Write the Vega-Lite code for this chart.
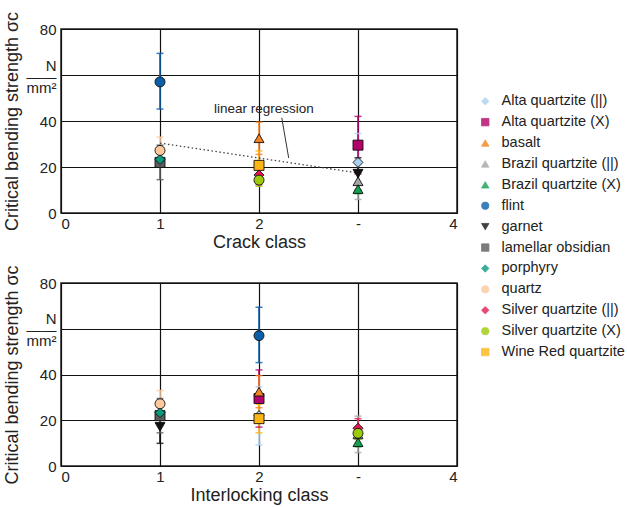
{
  "$schema": "https://vega.github.io/schema/vega-lite/v6.json",
  "padding": {"left": 2, "top": 10, "right": 5, "bottom": 5},
  "config": {
    "font": "Liberation Sans",
    "view": {"stroke": "#222", "strokeWidth": 1.5},
    "axis": {
      "grid": true,
      "gridColor": "#111",
      "gridWidth": 1.2,
      "gridOpacity": 1,
      "ticks": false,
      "domain": false,
      "labelFont": "Liberation Sans",
      "labelFontSize": 15,
      "labelColor": "#222",
      "titleFont": "Liberation Sans",
      "titleFontSize": 18,
      "titleFontWeight": "normal",
      "titleColor": "#222"
    },
    "legend": {
      "labelFont": "Liberation Sans",
      "labelFontSize": 14.5,
      "labelColor": "#222",
      "labelLimit": 200,
      "symbolSize": 55,
      "symbolStrokeColor": "#222",
      "symbolStrokeWidth": 0.8,
      "rowPadding": 5.9,
      "labelOffset": 9
    }
  },
  "datasets": {
    "strength": [
      {"material": "Alta quartzite (||)", "crack": 3, "interlock": 2, "mean": 22.0, "lo": 9.2, "hi": 34.6},
      {"material": "Alta quartzite (X)", "crack": 3, "interlock": 2, "mean": 29.5, "lo": 17.0, "hi": 42.0},
      {"material": "basalt", "crack": 2, "interlock": 2, "mean": 32.5, "lo": 25.5, "hi": 39.5},
      {"material": "Brazil quartzite (||)", "crack": 3, "interlock": 3, "mean": 13.8, "lo": 5.9, "hi": 21.8},
      {"material": "Brazil quartzite (X)", "crack": 3, "interlock": 3, "mean": 10.4, "lo": 8.4, "hi": 12.4},
      {"material": "flint", "crack": 1, "interlock": 2, "mean": 57.0, "lo": 45.2, "hi": 69.4},
      {"material": "garnet", "crack": 3, "interlock": 1, "mean": 17.1, "lo": 9.9, "hi": 24.0},
      {"material": "lamellar obsidian", "crack": 1, "interlock": 1, "mean": 22.0, "lo": 14.5, "hi": 29.5},
      {"material": "porphyry", "crack": 1, "interlock": 1, "mean": 23.3, "lo": 20.8, "hi": 25.8},
      {"material": "quartz", "crack": 1, "interlock": 1, "mean": 27.2, "lo": 21.4, "hi": 33.0},
      {"material": "Silver quartzite (||)", "crack": 2, "interlock": 3, "mean": 16.5, "lo": 12.3, "hi": 20.7},
      {"material": "Silver quartzite (X)", "crack": 2, "interlock": 3, "mean": 14.3, "lo": 11.6, "hi": 17.0},
      {"material": "Wine Red quartzite", "crack": 2, "interlock": 2, "mean": 20.7, "lo": 14.5, "hi": 27.0}
    ],
    "regression": [
      {"crack": 1, "sigma": 30.4},
      {"crack": 3, "sigma": 17.4}
    ],
    "note": [
      {"crack": 2.05, "sigma": 45.2, "crack2": 2.23, "top": 41.4, "crack3": 2.30, "bottom": 23.9, "text": "linear regression"}
    ]
  },
  "vconcat": [
    {
      "width": 396,
      "height": 184,
      "layer": [
        {
          "data": {"name": "strength"},
          "mark": {"type": "rule", "strokeWidth": 2, "opacity": 0.8},
          "encoding": {
            "x": {"field": "crack", "type": "quantitative", "scale": {"domain": [0, 4], "nice": false},
                  "axis": {"values": [0, 1, 2, 3, 4], "format": "d", "labelExpr": "datum.value == 3 ? '-' : datum.label", "labelPadding": 3, "titlePadding": 2, "title": "Crack class"}},
            "y": {"field": "lo", "type": "quantitative", "scale": {"domain": [0, 80], "nice": false},
                  "axis": {"values": [0, 20, 40, 60, 80], "labelExpr": "datum.value == 60 ? ['N', '——', 'mm²'] : datum.label", "labelLineHeight": 11, "labelOffset": {"condition": {"test": "datum.value == 60", "value": -10}, "value": 0}, "labelPadding": 5, "titlePadding": 5, "title": "Critical bending strength σc"}},
            "y2": {"field": "hi"},
            "color": {"field": "material", "type": "nominal"}
          }
        },
        {
          "data": {"name": "strength"},
          "mark": {"type": "tick", "orient": "horizontal", "size": 7, "thickness": 1.5, "opacity": 0.8},
          "encoding": {
            "x": {"field": "crack", "type": "quantitative"},
            "y": {"field": "lo", "type": "quantitative"},
            "color": {"field": "material", "type": "nominal"}
          }
        },
        {
          "data": {"name": "strength"},
          "mark": {"type": "tick", "orient": "horizontal", "size": 7, "thickness": 1.5, "opacity": 0.8},
          "encoding": {
            "x": {"field": "crack", "type": "quantitative"},
            "y": {"field": "hi", "type": "quantitative"},
            "color": {"field": "material", "type": "nominal"}
          }
        },
        {
          "data": {"name": "regression"},
          "mark": {"type": "line", "color": "#444", "strokeWidth": 1.3, "strokeDash": [1.5, 2.5]},
          "encoding": {
            "x": {"field": "crack", "type": "quantitative"},
            "y": {"field": "sigma", "type": "quantitative"}
          }
        },
        {
          "data": {"name": "note"},
          "mark": {"type": "rule", "color": "#333", "strokeWidth": 1},
          "encoding": {
            "x": {"field": "crack2", "type": "quantitative"},
            "y": {"field": "top", "type": "quantitative"},
            "x2": {"field": "crack3"},
            "y2": {"field": "bottom"}
          }
        },
        {
          "data": {"name": "note"},
          "mark": {"type": "text", "fontSize": 13.5, "color": "#222", "font": "Liberation Sans"},
          "encoding": {
            "x": {"field": "crack", "type": "quantitative"},
            "y": {"field": "sigma", "type": "quantitative"},
            "text": {"field": "text"}
          }
        },
        {
          "data": {"name": "strength"},
          "mark": {"type": "point", "filled": true, "size": 100, "stroke": "#111", "strokeWidth": 0.9, "opacity": 1},
          "encoding": {
            "x": {"field": "crack", "type": "quantitative"},
            "y": {"field": "mean", "type": "quantitative"},
            "color": {"field": "material", "type": "nominal",
              "scale": {
                "domain": ["Alta quartzite (||)", "Alta quartzite (X)", "basalt", "Brazil quartzite (||)", "Brazil quartzite (X)", "flint", "garnet", "lamellar obsidian", "porphyry", "quartz", "Silver quartzite (||)", "Silver quartzite (X)", "Wine Red quartzite"],
                "range": ["#a9d1f5", "#b3006a", "#f58220", "#a6a6a6", "#12a150", "#0b5ea8", "#111111", "#5c5c5c", "#0a9b7d", "#fcc89c", "#e8194f", "#9dcb0b", "#fdb515"]
              },
              "legend": {"title": null, "orient": "none", "legendX": 417, "legendY": 65}},
            "shape": {"field": "material", "type": "nominal",
              "scale": {
                "domain": ["Alta quartzite (||)", "Alta quartzite (X)", "basalt", "Brazil quartzite (||)", "Brazil quartzite (X)", "flint", "garnet", "lamellar obsidian", "porphyry", "quartz", "Silver quartzite (||)", "Silver quartzite (X)", "Wine Red quartzite"],
                "range": ["diamond", "square", "triangle-up", "triangle-up", "triangle-up", "circle", "triangle-down", "square", "diamond", "circle", "diamond", "circle", "square"]
              },
              "legend": {"title": null, "orient": "none", "legendX": 417, "legendY": 65}}
          }
        }
      ]
    },
    {
      "width": 396,
      "height": 183,
      "layer": [
        {
          "data": {"name": "strength"},
          "mark": {"type": "rule", "strokeWidth": 2, "opacity": 0.8},
          "encoding": {
            "x": {"field": "interlock", "type": "quantitative", "scale": {"domain": [0, 4], "nice": false},
                  "axis": {"values": [0, 1, 2, 3, 4], "format": "d", "labelExpr": "datum.value == 3 ? '-' : datum.label", "labelPadding": 3, "titlePadding": 2, "title": "Interlocking class"}},
            "y": {"field": "lo", "type": "quantitative", "scale": {"domain": [0, 80], "nice": false},
                  "axis": {"values": [0, 20, 40, 60, 80], "labelExpr": "datum.value == 60 ? ['N', '——', 'mm²'] : datum.label", "labelLineHeight": 11, "labelOffset": {"condition": {"test": "datum.value == 60", "value": -10}, "value": 0}, "labelPadding": 5, "titlePadding": 5, "title": "Critical bending strength σc"}},
            "y2": {"field": "hi"},
            "color": {"field": "material", "type": "nominal"}
          }
        },
        {
          "data": {"name": "strength"},
          "mark": {"type": "tick", "orient": "horizontal", "size": 7, "thickness": 1.5, "opacity": 0.8},
          "encoding": {
            "x": {"field": "interlock", "type": "quantitative"},
            "y": {"field": "lo", "type": "quantitative"},
            "color": {"field": "material", "type": "nominal"}
          }
        },
        {
          "data": {"name": "strength"},
          "mark": {"type": "tick", "orient": "horizontal", "size": 7, "thickness": 1.5, "opacity": 0.8},
          "encoding": {
            "x": {"field": "interlock", "type": "quantitative"},
            "y": {"field": "hi", "type": "quantitative"},
            "color": {"field": "material", "type": "nominal"}
          }
        },
        {
          "data": {"name": "strength"},
          "mark": {"type": "point", "filled": true, "size": 100, "stroke": "#111", "strokeWidth": 0.9, "opacity": 1},
          "encoding": {
            "x": {"field": "interlock", "type": "quantitative"},
            "y": {"field": "mean", "type": "quantitative"},
            "color": {"field": "material", "type": "nominal"},
            "shape": {"field": "material", "type": "nominal"}
          }
        }
      ]
    }
  ],
  "spacing": 70,
  "bounds": "flush",
  "resolve": {"scale": {"color": "shared", "shape": "shared"}}
}
